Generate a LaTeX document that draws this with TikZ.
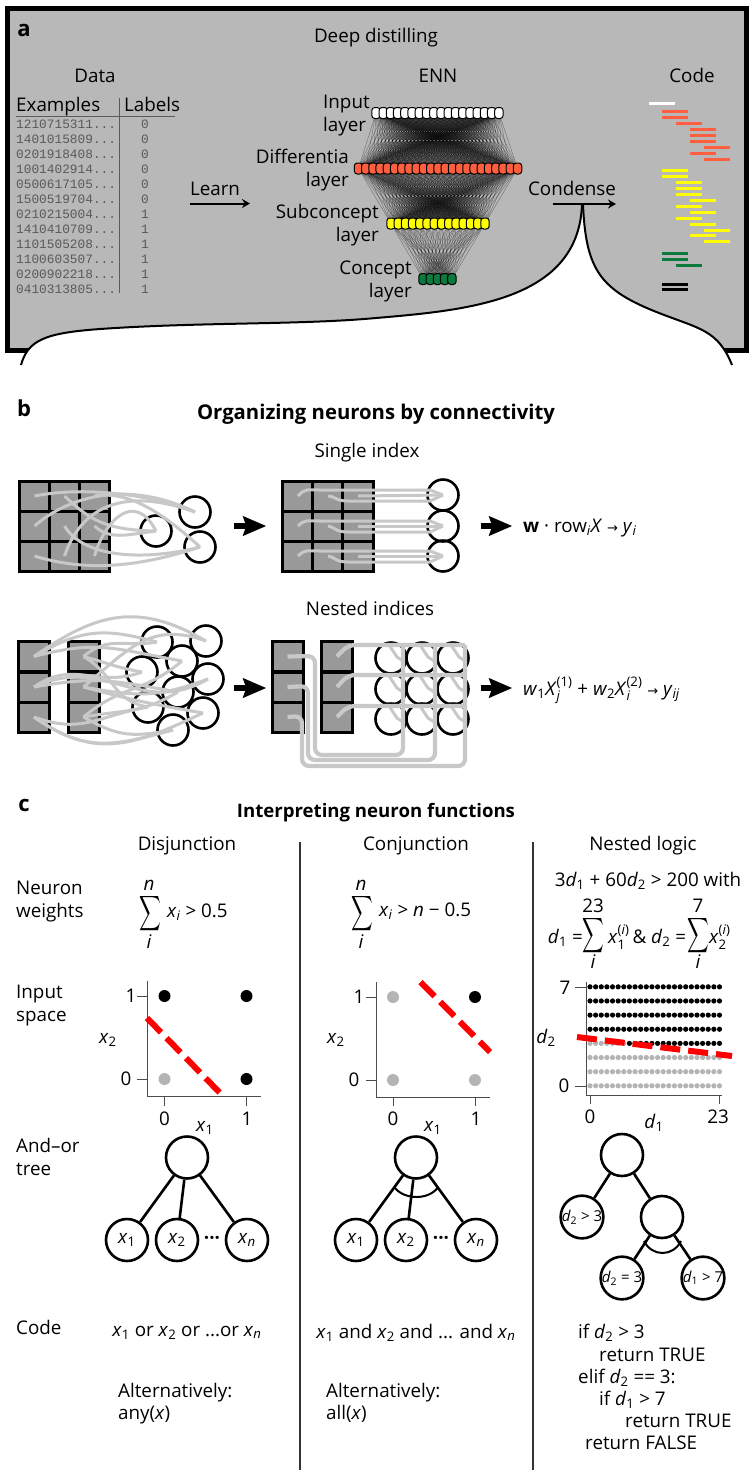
\documentclass[tikz,border=0pt]{standalone}
\usepackage{amsmath,amssymb}
\usepackage{fontspec}
\setmainfont{Open Sans}
\newfontfamily\monofnt{Liberation Mono}
\newfontfamily\symfnt{DejaVu Sans}
\usetikzlibrary{arrows.meta, calc, backgrounds}
\definecolor{panelgray}{HTML}{B8B8B8}
\definecolor{cellgray}{HTML}{999999}
\definecolor{wiregray}{HTML}{C8C8C8}
\definecolor{dotgray}{HTML}{B4B4B4}
\definecolor{tablegray}{HTML}{5A5A5A}
\definecolor{diffred}{HTML}{FF5F3F}
\definecolor{subyellow}{HTML}{FFFF00}
\definecolor{conceptgreen}{HTML}{0B7A3C}
\definecolor{sepred}{HTML}{FF0000}
\newcommand{\lab}{\fontsize{18.8}{22}\selectfont}
\newcommand{\vb}[2]{\textit{#1}$_{\text{#2}}$}
\newcommand{\bigsum}{\scalebox{0.8}[1.3]{$\displaystyle\sum$}}
\newcommand{\toarr}{{\symfnt\fontsize{13}{15}\selectfont →}}
\tikzset{
  unit/.style={rectangle, rounded corners=3pt, draw=black, line width=1pt, minimum width=8.4pt, minimum height=11pt, inner sep=0pt},
  link/.style={black, line width=0.45pt, opacity=0.38},
  codebar/.style={line width=3pt},
  cell/.style={rectangle, draw=black, fill=cellgray, line width=3pt, minimum width=30.5pt, minimum height=30pt, inner sep=0pt},
  neuron/.style={circle, draw=black, line width=2.6pt, minimum size=31pt, inner sep=0pt},
  treenode/.style={circle, draw=black, line width=2.6pt, fill=white, minimum size=42pt, inner sep=0pt},
  edge/.style={black, line width=2.6pt},
  wire/.style={wiregray, line width=3pt},
  fatwire/.style={wiregray, line width=4.2pt, rounded corners=7pt},
  thinarrow/.style={black, line width=2pt, -{Stealth[length=8pt,width=9pt]}},
  fatarrow/.style={black, line width=6pt, -{Stealth[length=23pt,width=19pt,inset=3pt]}},
  axis/.style={black!70, line width=1pt},
  dot/.style={circle, inner sep=0pt, minimum size=12pt},
  sepline/.style={sepred, line width=6pt, dash pattern=on 20pt off 8pt},
  sumsign/.style={inner sep=0pt},
}
\begin{document}
\begin{tikzpicture}[x=1pt, y=-1pt, font=\lab]
  \useasboundingbox (0,0) rectangle (753,1476);
  % Panel a
  \begin{scope}[on background layer]
    \fill[white] (0,0) rectangle (753,1476);
    \draw[fill=panelgray, line width=5pt] (7,8) rectangle (746.5,350);
    \fill[white] (21,365) .. controls (28,340) and (45,333) .. (100,329)
      .. controls (200,322) and (300,325) .. (376,318)
      .. controls (470,310) and (578,300) .. (582,205)
      -- (583,205) .. controls (586,270) and (600,290) .. (659,313)
      .. controls (700,329) and (718,330) .. (732,365) -- cycle;
    \draw[black, line width=2pt] (21,365) .. controls (28,340) and (45,333) .. (100,329)
      .. controls (200,322) and (300,325) .. (376,318)
      .. controls (470,310) and (578,300) .. (582,205);
    \draw[black, line width=2pt] (583,205) .. controls (586,270) and (600,290) .. (659,313)
      .. controls (700,329) and (718,330) .. (732,365);
  \end{scope}
  \node[anchor=base, font=\fontsize{22}{24}\selectfont\bfseries] (alabel) at (24,36) {a};
  \node[anchor=base] (deep) at (376,42) {Deep distilling};
  \node[anchor=base] (data) at (95,82) {Data};
  \node[anchor=base] (enn) at (438,82) {ENN};
  \node[anchor=base] (code) at (692,82) {Code};
  % Data table
  \node[anchor=base west, inner sep=0pt] (examples) at (16,111) {Examples};
  \node[anchor=base west, inner sep=0pt] (labels) at (124,111) {Labels};
  \draw[tablegray, line width=1.6pt] (16,116.5) -- (175,116.5);
  \draw[tablegray, line width=1.6pt] (119.5,98) -- (119.5,293);
  \foreach \row/\ex/\lbl [count=\k from 0] in {a/1210715311/0, b/1401015809/0, c/0201918408/0, d/1001402914/0, e/0500617105/0, f/1500519704/0, g/0210215004/1, h/1410410709/1, i/1101505208/1, j/1100603507/1, k/0200902218/1, l/0410313805/1} {
    \node[anchor=base west, inner sep=0pt, text=tablegray, font=\fontsize{12.8}{14}\monofnt] (ex\row) at (16,{128+15*\k}) {\ex...};
    \node[anchor=base, inner sep=0pt, text=tablegray, font=\fontsize{12.8}{14}\monofnt] (lb\row) at (145,{128+15*\k}) {\lbl};
  }
  \node[anchor=base] (learn) at (215,195) {Learn};
  \coordinate (learnA) at (190,203.5);
  \coordinate (learnB) at (250,203.5);
  \draw[thinarrow] (learnA) -- (learnB);
  \node[anchor=base] (condense) at (572,195) {Condense};
  \coordinate (condA) at (553,204);
  \coordinate (condB) at (616,204);
  \draw[thinarrow] (condA) -- (condB);
  % Layer names
  \node[anchor=base west, inner sep=0pt] (inA) at (323,108) {Input};
  \node[anchor=base west, inner sep=0pt] (inB) at (323,131) {layer};
  \node[anchor=base east, inner sep=0pt] (diA) at (349,163) {Differentia};
  \node[anchor=base east, inner sep=0pt] (diB) at (349,186) {layer};
  \node[anchor=base east, inner sep=0pt] (suA) at (379,218) {Subconcept};
  \node[anchor=base east, inner sep=0pt] (suB) at (379,241) {layer};
  \node[anchor=base east, inner sep=0pt] (coA) at (412,274) {Concept};
  \node[anchor=base east, inner sep=0pt] (coB) at (412,297) {layer};
  % ENN layers
  \foreach \k in {1,...,18} \node[unit, fill=white] (i\k) at ({376+7.23*(\k-1)},113) {};
  \foreach \k in {1,...,23} \node[unit, fill=diffred] (d\k) at ({358.5+7.23*(\k-1)},168.5) {};
  \foreach \k in {1,...,14} \node[unit, fill=subyellow] (s\k) at ({391+7.23*(\k-1)},223.5) {};
  \foreach \k in {1,...,5} \node[unit, fill=conceptgreen] (c\k) at ({423+7.23*(\k-1)},279) {};
  \begin{scope}[on background layer]
    \foreach \a in {1,...,18} \foreach \b in {1,...,23} \draw[link] (i\a.center) -- (d\b.center);
    \foreach \a in {1,...,23} \foreach \b in {1,...,14} \draw[link] (d\a.center) -- (s\b.center);
    \foreach \a in {1,...,14} \foreach \b in {1,...,5} \draw[link] (s\a.center) -- (c\b.center);
  \end{scope}
  % Code bars
  \draw[codebar, white] (649,103) -- ++(26,0);
  \foreach \x/\y in {662/111, 662/117, 676/123, 690/129, 690/135, 690/141, 704/147, 690/153, 704/159}
    \draw[codebar, diffred] (\x,\y) -- ++(26,0);
  \foreach \x/\y in {662/170, 662/176, 676/182, 676/188, 676/194, 690/200, 676/206, 690/212, 676/218, 690/224, 704/230, 690/235.5, 704/241}
    \draw[codebar, subyellow] (\x,\y) -- ++(26,0);
  \foreach \x/\y in {662/253, 662/259, 676/265}
    \draw[codebar, conceptgreen] (\x,\y) -- ++(26,0);
  \foreach \x/\y in {662/284, 662/289.5}
    \draw[codebar, black] (\x,\y) -- ++(26,0);

  % Panel b
  \node[anchor=base, font=\fontsize{22}{24}\selectfont\bfseries] (blabel) at (24,416) {b};
  \node[anchor=base, font=\fontsize{20.3}{24}\selectfont\bfseries] (orgtitle) at (376,419) {Organizing neurons by connectivity};
  \node[anchor=base] (single) at (367,457) {Single index};
  \node[anchor=base] (nested) at (370,615) {Nested indices};
  % Single index, scrambled
  \foreach \c/\x in {1/34.5,2/64.5,3/94.5} \foreach \r/\y in {1/496,2/526,3/556}
    \node[cell] (ga\c\r) at (\x,\y) {};
  \node[neuron] (na1) at (195,512) {};
  \node[neuron] (na2) at (156,531) {};
  \node[neuron] (na3) at (200,547) {};
  \draw[wire] (ga11.center) .. controls (90,485) and (160,497) .. (na1.center);
  \draw[wire] (ga12.center) .. controls (70,495) and (130,480) .. (na1.center);
  \draw[wire] (ga23.center) .. controls (80,510) and (120,485) .. (na1.center);
  \draw[wire] (ga21.center) .. controls (90,520) and (105,530) .. (na2.center);
  \draw[wire] (ga33.center) .. controls (105,520) and (135,490) .. (na2.center);
  \draw[wire] (ga32.center) .. controls (110,540) and (125,535) .. (na2.center);
  \draw[wire] (ga22.center) .. controls (85,560) and (150,560) .. (na3.center);
  \draw[wire] (ga13.center) .. controls (80,570) and (130,570) .. (na3.center);
  \draw[wire] (ga31.center) .. controls (130,490) and (165,515) .. (na3.center);
  \node[anchor=center, inner sep=0pt] (arrA) at (233,526) {};
  \node[anchor=center, inner sep=0pt] (arrB) at (267,526) {};
  \draw[fatarrow] (arrA) -- (arrB);
  % Single index, ordered
  \foreach \c/\x in {1/298,2/328,3/358} \foreach \r/\y in {1/496,2/526,3/556}
    \node[cell] (gb\c\r) at (\x,\y) {};
  \foreach \r/\y in {1/495,2/526,3/556} {
    \node[neuron] (nb\r) at (443,\y) {};
    \draw[wire] (gb1\r.center) .. controls (305,\y-7) and (308,\y-5) .. ({320},\y-5) -- ++(110,0) -- (nb\r.center);
    \draw[wire] (gb2\r.center) .. controls (335,\y+1) and (335,\y+6) .. ({348},\y+6) -- ++(82,0) -- (nb\r.center);
    \draw[wire] (gb3\r.center) -- (nb\r.center);
  }
  \node[inner sep=0pt] (arrC) at (480,526) {};
  \node[inner sep=0pt] (arrD) at (513,526) {};
  \draw[fatarrow] (arrC) -- (arrD);
  \node[anchor=base west, inner sep=0pt] (formA) at (523,532) {\textbf{w} · row$_{\text{\textit{i}}}$\textit{X} \toarr{} \vb{y}{\textit{i}}};
  % Nested indices, scrambled
  \tikzset{nestcell/.style={cell, minimum width=31pt}}
  \foreach \r/\y in {1/656.5,2/687,3/717} {
    \node[nestcell] (ka\r) at (34,\y) {};
    \node[nestcell] (kb\r) at (83.5,\y) {};
  }
  \foreach \k/\x/\y in {1/157/642, 2/206/641, 3/182/661, 4/142/672, 5/208/679, 6/178/692, 7/148/707, 8/203/713, 9/173/730}
    \node[neuron] (nc\k) at (\x,\y) {};
  \foreach \p/\k/\o/\i in {ka1/1/30/165, ka1/2/35/150, ka1/3/15/170, ka2/4/35/200, ka2/5/25/210, ka2/6/10/170, ka3/7/-20/190, ka3/8/-35/205, ka3/9/-35/195,
    kb1/1/40/190, kb1/4/-15/170, kb1/7/-30/170, kb2/2/40/160, kb2/5/-10/200, kb2/8/-15/170, kb3/3/40/220, kb3/6/10/210, kb3/9/-30/190}
    \draw[wire] (\p.center) to[out=\o, in=\i, looseness=1.15] (nc\k.center);
  \node[inner sep=0pt] (arrE) at (233,688) {};
  \node[inner sep=0pt] (arrF) at (267,688) {};
  \draw[fatarrow] (arrE) -- (arrF);
  % Nested indices, ordered
  \foreach \r/\y in {1/656.5,2/687,3/717} {
    \node[nestcell] (pa\r) at (287.5,\y) {};
    \node[nestcell] (pb\r) at (337,\y) {};
  }
  \foreach \c/\x in {1/391,2/422,3/453} \foreach \r/\y in {1/658,2/689,3/719}
    \node[neuron] (m\c\r) at (\x,\y) {};
  \foreach \r/\y in {1/645,2/675,3/706} {
    \draw[fatwire] (pb\r.center) -- (348,\y) -- (465,\y);
  }
  \draw[fatwire] (pa1.center) -- (315,656) -- (315,755) -- (403,755) -- (403,645);
  \draw[fatwire] (pa2.center) -- (308,686) -- (308,760) -- (435,760) -- (435,645);
  \draw[fatwire] (pa3.center) -- (302,716) -- (302,766) -- (465,766) -- (465,645);
  \foreach \c in {1,2,3} \foreach \r in {1,2,3}
    \draw[wire] (m\c\r.center) ++(-2,-13) -- ++(8,12) -- ++(6,4);
  \node[inner sep=0pt] (arrG) at (480,688) {};
  \node[inner sep=0pt] (arrH) at (513,688) {};
  \draw[fatarrow] (arrG) -- (arrH);
  \node[anchor=base west, inner sep=0pt] (formB) at (523,695) {\vb{w}{1}$\text{\textit{X}}_{\text{\textit{j}}}^{\text{(1)}}$ + \vb{w}{2}$\text{\textit{X}}_{\text{\textit{i}}}^{\text{(2)}}$ \toarr{} \vb{y}{\textit{ij}}};

  % Panel c
  \node[anchor=base, font=\fontsize{22}{24}\selectfont\bfseries] (clabel) at (24,811) {c};
  \node[anchor=base, font=\fontsize{18.6}{24}\selectfont\bfseries] (inttitle) at (376,817) {Interpreting neuron functions};
  \node[anchor=base] (disj) at (187,850) {Disjunction};
  \node[anchor=base] (conj) at (416,850) {Conjunction};
  \node[anchor=base] (nestl) at (643,850) {Nested logic};
  \coordinate (sepAtop) at (300,842);
  \coordinate (sepAbot) at (300,1470);
  \coordinate (sepBtop) at (533,842);
  \coordinate (sepBbot) at (533,1470);
  \draw[black!80, line width=1.5pt] (sepAtop) -- (sepAbot);
  \draw[black!80, line width=1.5pt] (sepBtop) -- (sepBbot);
  % Row names
  \node[anchor=base west, inner sep=0pt] (rwA) at (16,894) {Neuron};
  \node[anchor=base west, inner sep=0pt] (rwB) at (16,917) {weights};
  \node[anchor=base west, inner sep=0pt] (rsA) at (16,998) {Input};
  \node[anchor=base west, inner sep=0pt] (rsB) at (16,1021) {space};
  \node[anchor=base west, inner sep=0pt] (rtA) at (16,1152) {And–or};
  \node[anchor=base west, inner sep=0pt] (rtB) at (16,1175) {tree};
  \node[anchor=base west, inner sep=0pt] (rcA) at (16,1334) {Code};
  % Neuron weights
  \node[sumsign] (sumA) at (150,914) {\bigsum};
  \node[anchor=base, inner sep=0pt] (sumAn) at (149,890) {\textit{n}};
  \node[anchor=base, inner sep=0pt] (sumAi) at (149,948) {\textit{i}};
  \node[anchor=base west, inner sep=0pt] (exprA) at (167,917) {\vb{x}{\textit{i}} > 0.5};
  \node[sumsign] (sumB) at (362,914) {\bigsum};
  \node[anchor=base, inner sep=0pt] (sumBn) at (361,890) {\textit{n}};
  \node[anchor=base, inner sep=0pt] (sumBi) at (361,948) {\textit{i}};
  \node[anchor=base west, inner sep=0pt] (exprB) at (379,916) {\vb{x}{\textit{i}} > \textit{n} − 0.5};
  \node[anchor=base] (exprC) at (648,886) {3\vb{d}{1} + 60\vb{d}{2} > 200 with};
  \node[anchor=base east, inner sep=0pt] (exprD) at (583,943) {\vb{d}{1} =};
  \node[sumsign] (sumC) at (593,936) {\bigsum};
  \node[anchor=base, inner sep=0pt] (sumCn) at (593,912) {23};
  \node[anchor=base, inner sep=0pt] (sumCi) at (593,968) {\textit{i}};
  \node[anchor=base west, inner sep=0pt] (exprE) at (608,943) {$\text{\textit{x}}_{\text{1}}^{\text{(\textit{i})}}$\,\&};
  \node[anchor=base west, inner sep=0pt] (exprF) at (651,943) {\vb{d}{2} =};
  \node[sumsign] (sumD) at (698,936) {\bigsum};
  \node[anchor=base, inner sep=0pt] (sumDn) at (698,912) {7};
  \node[anchor=base, inner sep=0pt] (sumDi) at (698,968) {\textit{i}};
  \node[anchor=base west, inner sep=0pt] (exprG) at (709,943) {$\text{\textit{x}}_{\text{2}}^{\text{(\textit{i})}}$};
  % Input space, disjunction
  \coordinate (pA0) at (147,1096.5);
  \coordinate (pAy) at (147,981);
  \coordinate (pAx) at (261,1096.5);
  \draw[axis] (pAy) -- (pA0) -- (pAx);
  \draw[axis] (137,996) -- (147,996);
  \draw[axis] (137,1079) -- (147,1079);
  \draw[axis] (164.5,1096.5) -- (164.5,1106);
  \draw[axis] (246.5,1096.5) -- (246.5,1106);
  \node[dot, fill=black] (dA1) at (164.5,996) {};
  \node[dot, fill=black] (dA2) at (246.5,996) {};
  \node[dot, fill=dotgray] (dA3) at (164.5,1079) {};
  \node[dot, fill=black] (dA4) at (246.5,1079) {};
  \node[anchor=base] (tA1) at (131,1002) {1};
  \node[anchor=base] (tA2) at (126,1085) {0};
  \node[anchor=base] (tA3) at (164.5,1125) {0};
  \node[anchor=base] (tA4) at (247,1125) {1};
  \node[anchor=base] (tA5) at (205,1131) {\vb{x}{1}};
  \node[anchor=base] (tA6) at (108,1043) {\vb{x}{2}};
  \coordinate (lineAa) at (147,1018);
  \coordinate (lineAb) at (222,1095);
  \draw[sepline] (lineAa) -- (lineAb);
  % Input space, conjunction
  \coordinate (pB0) at (376,1097);
  \coordinate (pBy) at (376,982);
  \coordinate (pBx) at (489.5,1097);
  \draw[axis] (pBy) -- (pB0) -- (pBx);
  \draw[axis] (366,997) -- (376,997);
  \draw[axis] (366,1080) -- (376,1080);
  \draw[axis] (393,1097) -- (393,1106);
  \draw[axis] (475,1097) -- (475,1106);
  \node[dot, fill=dotgray] (dB1) at (393,997) {};
  \node[dot, fill=black] (dB2) at (475,997) {};
  \node[dot, fill=dotgray] (dB3) at (393,1080) {};
  \node[dot, fill=dotgray] (dB4) at (475,1080) {};
  \node[anchor=base] (tB1) at (359,1003) {1};
  \node[anchor=base] (tB2) at (354,1086) {0};
  \node[anchor=base] (tB3) at (393,1125) {0};
  \node[anchor=base] (tB4) at (476,1125) {1};
  \node[anchor=base] (tB5) at (433,1131) {\vb{x}{1}};
  \node[anchor=base] (tB6) at (336,1043) {\vb{x}{2}};
  \coordinate (lineBa) at (420.5,982);
  \coordinate (lineBb) at (490,1052);
  \draw[sepline] (lineBa) -- (lineBb);
  % Input space, nested logic
  \coordinate (pC0) at (586,1095);
  \coordinate (pCy) at (586,982);
  \coordinate (pCx) at (722,1095);
  \draw[axis] (pCy) -- (pC0) -- (pCx);
  \draw[axis] (575,987) -- (586,987);
  \draw[axis] (575,1086) -- (586,1086);
  \draw[axis] (590,1095) -- (590,1104);
  \draw[axis] (719,1095) -- (719,1104);
  \foreach \a in {0,...,23} \foreach \b in {0,...,7} {
    \pgfmathtruncatemacro{\keep}{3*\a+60*\b>200 ? 1 : 0}
    \ifnum\keep=1 \def\shade{black}\else\def\shade{dotgray}\fi
    \fill[\shade] ({590+5.63*\a},{1085.8-14.14*\b}) circle (2.6);
  }
  \node[anchor=base] (tC1) at (565,994) {7};
  \node[anchor=base] (tC2) at (564,1092) {0};
  \node[anchor=base] (tC3) at (590,1123) {0};
  \node[anchor=base] (tC4) at (718,1123) {23};
  \node[anchor=base] (tC5) at (654,1128) {\vb{d}{1}};
  \node[anchor=base] (tC6) at (546,1043) {\vb{d}{2}};
  \coordinate (lineCa) at (577,1037);
  \coordinate (lineCb) at (732,1056);
  \draw[sepline] (lineCa) -- (lineCb);
  % And-or trees
  \node[treenode] (rootA) at (187,1157.5) {};
  \node[treenode] (xA1) at (127,1240) {\vb{x}{1}};
  \node[treenode] (xA2) at (177,1240) {\vb{x}{2}};
  \node[treenode] (xAn) at (247,1240) {\vb{x}{\textit{n}}};
  \foreach \k in {xA1,xA2,xAn} \draw[edge] (rootA) -- (\k);
  \node[font=\lab\bfseries] (dotsA) at (212,1240) {···};
  \node[treenode] (rootB) at (416,1157.5) {};
  \node[treenode] (xB1) at (356,1240) {\vb{x}{1}};
  \node[treenode] (xB2) at (406,1240) {\vb{x}{2}};
  \node[treenode] (xBn) at (476,1240) {\vb{x}{\textit{n}}};
  \foreach \k in {xB1,xB2,xBn} \draw[edge] (rootB) -- (\k);
  \node[font=\lab\bfseries] (dotsB) at (441,1240) {···};
  \draw[edge, line width=2pt] (395,1188) .. controls (405,1200) and (428,1200) .. (437.5,1188);
  \tikzset{condlabel/.style={treenode, font=\fontsize{15}{17}\selectfont}}
  \node[treenode] (rootC) at (622,1155) {};
  \node[condlabel] (leafA) at (582,1217) {\vb{d}{2} > 3};
  \node[treenode] (midC) at (662,1217) {};
  \node[condlabel] (leafB) at (622,1278) {\vb{d}{2} = 3};
  \node[condlabel] (leafC) at (703,1278) {\vb{d}{1} > 7};
  \draw[edge] (rootC) -- (leafA);
  \draw[edge] (rootC) -- (midC);
  \draw[edge] (midC) -- (leafB);
  \draw[edge] (midC) -- (leafC);
  \draw[edge, line width=2pt] (644,1241) .. controls (652,1257) and (673,1257) .. (681,1241);
  % Code
  \node[anchor=base] (cA) at (187,1336) {\vb{x}{1} or \vb{x}{2} or ...or \vb{x}{\textit{n}}};
  \node[anchor=base west, inner sep=0pt] (cB) at (118,1397) {Alternatively:};
  \node[anchor=base west, inner sep=0pt] (cC) at (118,1419) {any(\textit{x})};
  \node[anchor=base] (cD) at (416,1338) {\vb{x}{1} and \vb{x}{2} and ... and \vb{x}{\textit{n}}};
  \node[anchor=base west, inner sep=0pt] (cE) at (326,1397) {Alternatively:};
  \node[anchor=base west, inner sep=0pt] (cF) at (326,1419) {all(\textit{x})};
  \node[anchor=base west, inner sep=0pt] (cG) at (578,1338) {if \vb{d}{2} > 3};
  \node[anchor=base west, inner sep=0pt] (cH) at (599,1361) {return TRUE};
  \node[anchor=base west, inner sep=0pt] (cI) at (578,1383) {elif \vb{d}{2} == 3:};
  \node[anchor=base west, inner sep=0pt] (cJ) at (599,1405) {if \vb{d}{1} > 7};
  \node[anchor=base west, inner sep=0pt] (cK) at (625,1427) {return TRUE};
  \node[anchor=base west, inner sep=0pt] (cL) at (585,1449) {return FALSE};
\end{tikzpicture}
\end{document}
